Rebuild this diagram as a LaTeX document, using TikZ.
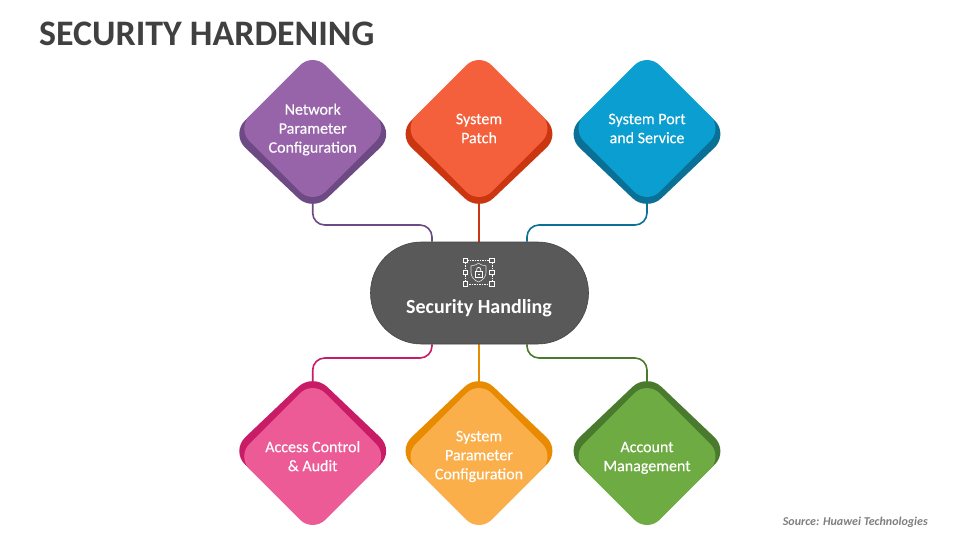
\documentclass[tikz,border=0pt]{standalone}
\usepackage{fontspec}
\setmainfont{Carlito}
\usetikzlibrary{shapes.geometric,calc}
\pgfdeclarelayer{conn}
\pgfsetlayers{conn,main}
\definecolor{hubfill}{HTML}{595959}
\definecolor{hubedge}{HTML}{444444}
\definecolor{titlecol}{HTML}{404040}
\definecolor{srccol}{HTML}{7F7F7F}
\definecolor{pfront}{HTML}{9763A9}\definecolor{pback}{HTML}{6D4A83}
\definecolor{rfront}{HTML}{F4603C}\definecolor{rback}{HTML}{CB3510}
\definecolor{bfront}{HTML}{0A9FD0}\definecolor{bback}{HTML}{0B7096}
\definecolor{kfront}{HTML}{EC5B96}\definecolor{kback}{HTML}{C91C66}
\definecolor{ofront}{HTML}{FBAF4B}\definecolor{oback}{HTML}{E88B00}
\definecolor{gfront}{HTML}{6EAB42}\definecolor{gback}{HTML}{4A7A2E}
\newcommand{\lowstrut}{\rule{0pt}{16pt}}
\tikzset{
  x=1pt,y=-1pt,
  front/.style={shape=diamond,aspect=1,minimum width=152pt,minimum height=152pt,inner sep=0pt,
    rounded corners=18pt,fill=#1,text=white,align=center,font=\fontsize{16}{19}\selectfont\addfontfeature{FakeBold=0.25}},
  back/.style={shape=diamond,aspect=1,minimum width=164pt,minimum height=156pt,inner sep=0pt,
    rounded corners=20pt,fill=#1},
  link/.style={line width=1.6pt,rounded corners=12pt,draw=#1},
  straightlink/.style={line width=1.6pt,draw=#1},
  handle/.style={draw=white,line width=0.8pt,fill=hubfill,minimum size=4.4pt,inner sep=0pt,shape=rectangle},
}
\begin{document}
\begin{tikzpicture}
\useasboundingbox (0,0) rectangle (960,540);
\begin{pgfonlayer}{conn}
\fill[white] (0,0) rectangle (960,540);
\end{pgfonlayer}
\node[anchor=west,inner sep=0pt,text=titlecol,font=\fontsize{35.9}{40}\selectfont\bfseries] (title) at (39,34) {SECURITY HARDENING};
\node[anchor=east,inner sep=0pt,text=srccol,font=\fontsize{12}{14}\selectfont\bfseries\itshape] (source) at (928,522.5) {Source: Huawei Technologies};

% hub
\node[shape=rectangle,minimum width=218pt,minimum height=102pt,rounded corners=50.9pt,fill=hubfill,draw=hubedge,line width=0.6pt,
  text=white,inner sep=0pt] (hub) at (479.5,293) {};
\node[text=white,inner sep=0pt,font=\fontsize{20}{23}\selectfont\bfseries] (hubtext) at (479,308) {Security Handling};

% back diamonds
\node[back=pback] (b1) at (312.7,134) {};
\node[back=rback] (b2) at (479,134) {};
\node[back=bback] (b3) at (647,134) {};
\node[back=kback] (b4) at (312.7,451) {};
\node[back=oback] (b5) at (479,451) {};
\node[back=gback] (b6) at (647,451) {};
% front diamonds
\node[front=pfront] (n1) at (312.7,128.5) {\lowstrut Network\\Parameter\\Configuration\strut};
\node[front=rfront] (n2) at (479,128.5) {\lowstrut System\\Patch\strut};
\node[front=bfront] (n3) at (647,128.5) {\lowstrut System Port\\and Service\strut};
\node[front=kfront] (n4) at (312.7,456.5) {\lowstrut Access Control\\\& Audit\strut};
\node[front=ofront] (n5) at (479,456.5) {\strut System\\Parameter\\Configuration\strut};
\node[front=gfront] (n6) at (647,456.5) {\lowstrut Account\\Management\strut};

% connector routing points
\coordinate (topbus) at (0,225);
\coordinate (botbus) at (0,358);
\coordinate (tl) at ($(hub.north)+(-47.5pt,0pt)$);
\coordinate (tr) at ($(hub.north)+(47.5pt,0pt)$);
\coordinate (bl) at ($(hub.south)+(-47.5pt,0pt)$);
\coordinate (br) at ($(hub.south)+(47.5pt,0pt)$);

% connectors
\begin{pgfonlayer}{conn}
\draw[link=pback] (b1.center) -- (b1.center |- topbus) -- (tl |- topbus) -- (tl);
\draw[straightlink=rback] (b2.center) -- (b2.center |- hub.north);
\draw[link=bback] (b3.center) -- (b3.center |- topbus) -- (tr |- topbus) -- (tr);
\draw[link=kback] (b4.center) -- (b4.center |- botbus) -- (bl |- botbus) -- (bl);
\draw[straightlink=oback] (b5.center) -- (b5.center |- hub.south);
\draw[link=gback] (b6.center) -- (b6.center |- botbus) -- (br |- botbus) -- (br);
\end{pgfonlayer}

% icon
\draw[white,line width=0.6pt,dash pattern=on 1.5pt off 1pt] (465.3,260.3) rectangle (492,284);
\foreach \hx/\hy/\hn in {465.3/260.3/ha,492/260.3/hb,465.3/272.2/hc,492/272.2/hd,465.3/284/he,492/284/hf}
  \node[handle] (\hn) at (\hx,\hy) {};
\draw[white!80!hubfill,line width=0.6pt,line join=round]
  (478.5,263.2) .. controls (481.5,265.2) and (484,265.8) .. (486,265.8)
  -- (486,272.5) .. controls (486,277) and (482.5,280.5) .. (478.5,282)
  .. controls (474.5,280.5) and (471,277) .. (471,272.5)
  -- (471,265.8) .. controls (473,265.8) and (475.5,265.2) .. (478.5,263.2) -- cycle;
\draw[white,line width=0.8pt] (475.2,271.8) rectangle (482.2,277.3);
\draw[white,line width=0.7pt] (476.6,271.8) -- (476.6,269.6) .. controls (476.6,266.7) and (480.8,266.7) .. (480.8,269.6) -- (480.8,271.8);
\fill[white] (477.6,274) rectangle (479.8,275.2);
\end{tikzpicture}
\end{document}
